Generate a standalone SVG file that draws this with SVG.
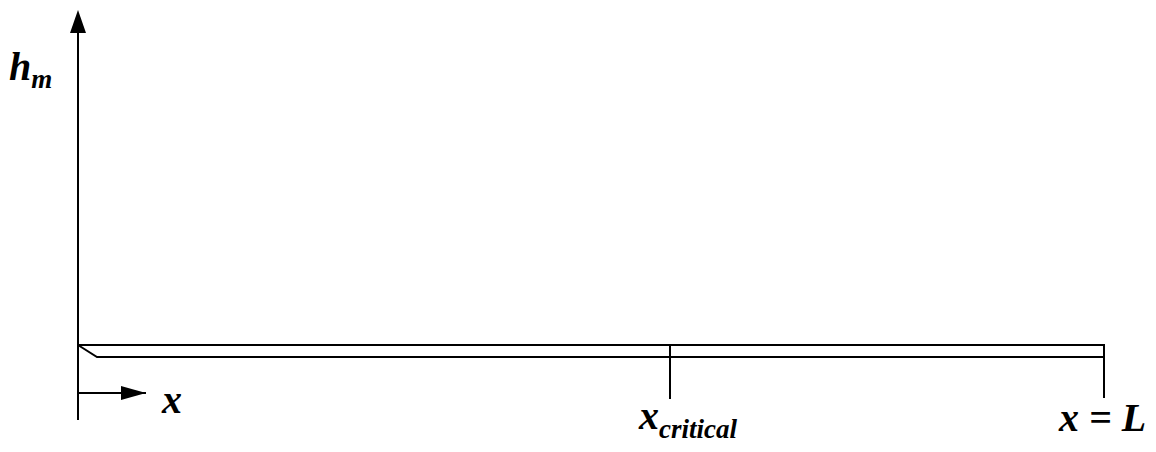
<svg xmlns="http://www.w3.org/2000/svg" width="1156" height="452" viewBox="0 0 1156 452">
<defs>
<marker id="ah" viewBox="0 0 25 14" markerWidth="25" markerHeight="14" refX="25" refY="7" orient="auto" markerUnits="userSpaceOnUse">
<path d="M0,0 L25,7 L0,14 Z" fill="#000"/>
</marker>
<style>
.ln{stroke:#000;stroke-width:2;fill:none}
</style>
</defs>
<rect width="1156" height="452" fill="#fff"/>
<g id="connectors">
<line class="ln" x1="78" y1="420" x2="78" y2="30"/>
<path d="M70,33 L78,10 L86,33 Z" fill="#000"/>
<line class="ln" x1="78" y1="393" x2="146" y2="393" marker-end="url(#ah)"/>
</g>
<g id="beam">
<line class="ln" x1="78" y1="345" x2="1105" y2="345"/>
<polyline class="ln" points="78,345 97,357 1104,357"/>
<line class="ln" x1="670" y1="345" x2="670" y2="399"/>
<line class="ln" x1="1104" y1="344" x2="1104" y2="398"/>
</g>
<g id="labels" font-family="Liberation Serif, Times New Roman, serif" font-weight="bold" font-style="italic" fill="#000">
<text x="9" y="80" font-size="40">h<tspan font-size="27" dy="8">m</tspan></text>
<text x="162" y="413" font-size="40">x</text>
<text x="639" y="429" font-size="40">x<tspan font-size="27" dy="9">critical</tspan></text>
<text x="1059" y="431" font-size="40">x = L</text>
</g>
</svg>
